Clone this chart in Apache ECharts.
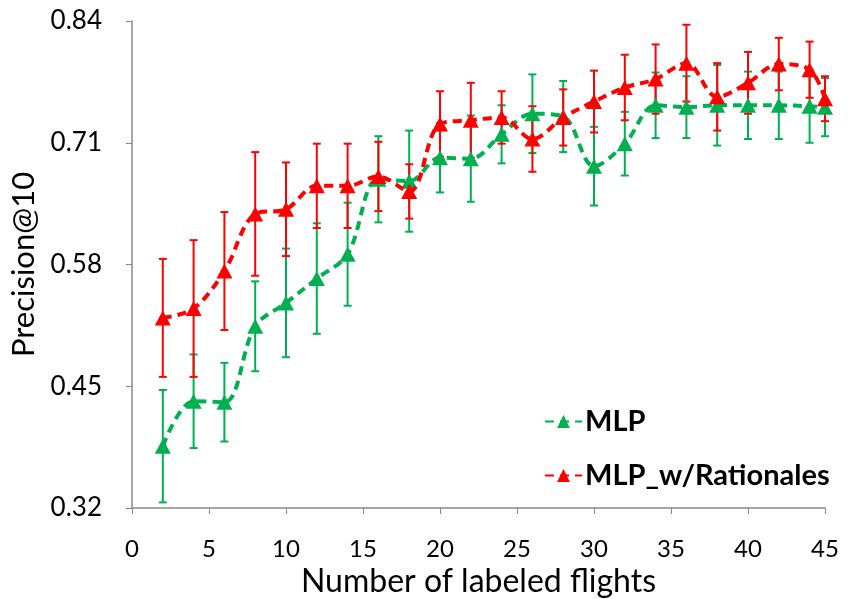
<!DOCTYPE html>
<html><head><meta charset="utf-8">
<script src="https://cdn.jsdelivr.net/npm/echarts@6/dist/echarts.min.js"></script>
<style>html,body{margin:0;padding:0;background:#fff}#c{width:857px;height:599px}</style>
</head><body><div id="c"></div>
<script>
const xs = [2,4,6,8,10,12,14,16,18,20,22,24,26,28,30,32,34,36,38,40,42,44,45];
const mlp = [0.386,0.434,0.433,0.514,0.539,0.565,0.591,0.671,0.669,0.694,0.693,0.719,0.741,0.738,0.685,0.709,0.750,0.748,0.750,0.750,0.750,0.749,0.748];
const mlpErr = [0.060,0.050,0.042,0.048,0.058,0.059,0.055,0.046,0.054,0.037,0.046,0.031,0.042,0.038,0.042,0.034,0.035,0.033,0.043,0.036,0.036,0.039,0.031];
const rat = [0.523,0.533,0.573,0.634,0.639,0.664,0.664,0.674,0.658,0.730,0.734,0.737,0.714,0.737,0.754,0.769,0.778,0.795,0.759,0.774,0.794,0.788,0.757];
const ratErr = [0.063,0.073,0.063,0.066,0.050,0.045,0.045,0.037,0.029,0.035,0.040,0.028,0.035,0.030,0.033,0.035,0.037,0.041,0.036,0.033,0.028,0.030,0.024];
const yTicks = [0.32,0.45,0.58,0.71,0.84];
const xTicks = [0,5,10,15,20,25,30,35,40,45];
const names = ['MLP','MLP_w/Rationales'];
const colors = ['#00B050','#FF0000'];
const FONT = 'Lato';

function errData(vals, errs){ return xs.map((x,i)=>[x, vals[i]-errs[i], vals[i]+errs[i]]); }
function errSeries(vals, errs, color){
  return {
    type:'custom', silent:true, z:3,
    data: errData(vals, errs),
    encode:{x:0,y:[1,2]},
    renderItem:function(params, api){
      const lo = api.coord([api.value(0), api.value(1)]);
      const hi = api.coord([api.value(0), api.value(2)]);
      const w = 4;
      const st = {stroke:color, lineWidth:2};
      return {type:'group', children:[
        {type:'line', shape:{x1:lo[0],y1:lo[1],x2:hi[0],y2:hi[1]}, style:st},
        {type:'line', shape:{x1:lo[0]-w,y1:lo[1],x2:lo[0]+w,y2:lo[1]}, style:st},
        {type:'line', shape:{x1:hi[0]-w,y1:hi[1],x2:hi[0]+w,y2:hi[1]}, style:st}
      ]};
    }
  };
}
function lineSeries(name, vals, color, z){
  return {
    name:name, type:'line', smooth:0.35, z:z,
    data: xs.map((x,i)=>[x, vals[i]]),
    symbol:'triangle', symbolSize:[16,15],
    lineStyle:{color:color, width:4, type:[9,6]},
    itemStyle:{color:color},
    emphasis:{disabled:true}
  };
}
const chart = echarts.init(document.getElementById('c'));
chart.setOption({
  animation:false,
  backgroundColor:'#fff',
  grid:{left:132, right:32, top:21, bottom:91, containLabel:false, outerBoundsMode:'none'},
  xAxis:{
    type:'value', min:xTicks[0], max:xTicks[xTicks.length-1], interval:5,
    name:'Number of labeled flights', nameLocation:'middle', nameGap:54,
    nameTextStyle:{fontFamily:FONT, fontSize:32, color:'#000'},
    axisLine:{show:true, lineStyle:{color:'#898989', width:1.5}},
    axisTick:{show:true, length:6, lineStyle:{color:'#898989'}},
    axisLabel:{fontFamily:FONT, fontSize:24, color:'#000', margin:29},
    splitLine:{show:false}
  },
  yAxis:{
    type:'value', min:yTicks[0], max:yTicks[yTicks.length-1], interval:0.13,
    name:'Precision@10', nameLocation:'middle', nameGap:85,
    nameTextStyle:{fontFamily:FONT, fontSize:31, color:'#000'},
    axisLine:{show:true, lineStyle:{color:'#898989', width:1.5}},
    axisTick:{show:true, length:6, lineStyle:{color:'#898989'}},
    axisLabel:{fontFamily:FONT, fontSize:26, color:'#000', margin:30, formatter:v=>v.toFixed(2)},
    splitLine:{show:false}
  },
  legend:{
    orient:'vertical', left:539, top:402, itemGap:25,
    itemWidth:37, itemHeight:16,
    textStyle:{fontFamily:FONT, fontSize:29, fontWeight:'bold', color:'#000', padding:[0,0,0,-2]},
    data:names
  },
  series:[
    errSeries(mlp, mlpErr, colors[0]),
    lineSeries(names[0], mlp, colors[0], 4),
    errSeries(rat, ratErr, colors[1]),
    lineSeries(names[1], rat, colors[1], 6)
  ]
});
</script></body></html>
